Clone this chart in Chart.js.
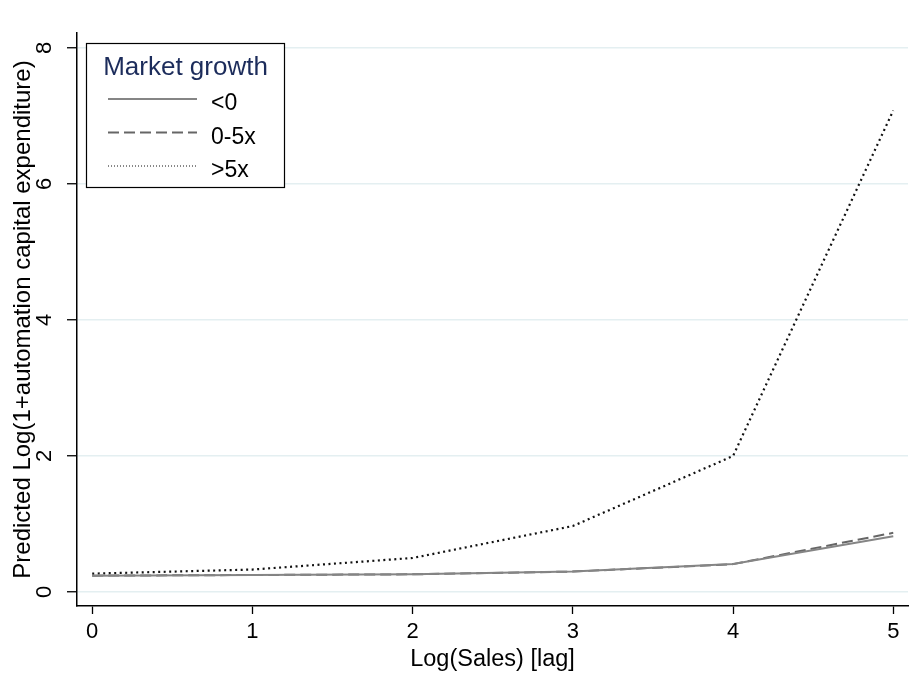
<!DOCTYPE html>
<html>
<head>
<meta charset="utf-8">
<script src="https://cdn.jsdelivr.net/npm/chart.js@4"></script>
<style>
  html, body { margin: 0; padding: 0; background: #fff; }
  #wrap { width: 923px; height: 684px; }
</style>
</head>
<body>
<div id="wrap"><canvas id="c" width="923" height="684"></canvas></div>
<script>
// Predicted log(1 + automation capex) by lagged log sales, per market-growth group
const salesLag   = [0, 1, 2, 3, 4, 5];
const growthNeg  = [0.24, 0.25, 0.26, 0.30, 0.41, 0.82];   // <0
const growthMid  = [0.24, 0.25, 0.26, 0.30, 0.41, 0.87];   // 0-5x
const growthHigh = [0.27, 0.33, 0.50, 0.97, 2.00, 7.08];   // >5x
const seriesLabels = ['<0', '0-5x', '>5x'];
const xTickValues = [0, 1, 2, 3, 4, 5];
const yTickValues = [0, 2, 4, 6, 8];
const legendTitle = 'Market growth';

const FONT = '"Liberation Sans", Arial, Helvetica, sans-serif';

function points(ys) {
  return salesLag.map((x, i) => ({ x: x, y: ys[i] }));
}

// Boxed legend drawn inside the plot region, using each dataset's own line style
const boxLegend = {
  id: 'boxLegend',
  afterDatasetsDraw(chart) {
    const ctx = chart.ctx;
    ctx.save();
    const x0 = 86.5, y0 = 43.5, w = 198, h = 144;
    ctx.fillStyle = '#fff';
    ctx.fillRect(x0, y0, w, h);
    ctx.strokeStyle = '#000';
    ctx.lineWidth = 1.2;
    ctx.strokeRect(x0, y0, w, h);

    ctx.fillStyle = '#1c2c5b';
    ctx.font = '26px ' + FONT;
    ctx.textAlign = 'center';
    ctx.textBaseline = 'alphabetic';
    ctx.fillText(legendTitle, x0 + w / 2, 75);

    chart.data.datasets.forEach((ds, i) => {
      const yLine = 99 + i * 33.5;
      ctx.strokeStyle = ds.borderColor;
      ctx.lineWidth = ds.legendWidth || ds.borderWidth;
      ctx.setLineDash(ds.legendDash || ds.borderDash || []);
      ctx.beginPath();
      ctx.moveTo(108, yLine);
      ctx.lineTo(197, yLine);
      ctx.stroke();
      ctx.setLineDash([]);
      ctx.fillStyle = '#000';
      ctx.font = '23px ' + FONT;
      ctx.textAlign = 'left';
      ctx.fillText(ds.label, 211, yLine + 11);
    });
    ctx.restore();
  }
};

new Chart(document.getElementById('c'), {
  type: 'line',
  data: {
    datasets: [
      {
        label: seriesLabels[0],
        data: points(growthNeg),
        borderColor: '#858585',
        borderWidth: 2,
        borderDash: [],
        pointRadius: 0,
        tension: 0
      },
      {
        label: seriesLabels[1],
        data: points(growthMid),
        borderColor: '#666666',
        borderWidth: 2,
        borderDash: [11, 5],
        pointRadius: 0,
        tension: 0
      },
      {
        label: seriesLabels[2],
        data: points(growthHigh),
        borderColor: '#111111',
        borderWidth: 2.2,
        borderDash: [2, 3.5],
        legendDash: [1, 2],
        legendWidth: 1,
        pointRadius: 0,
        tension: 0
      }
    ]
  },
  options: {
    responsive: false,
    animation: false,
    devicePixelRatio: 1,
    layout: { padding: { top: 33, right: 15, left: 0, bottom: 0 } },
    plugins: {
      legend: { display: false },
      tooltip: { enabled: false }
    },
    scales: {
      x: {
        type: 'linear',
        min: -0.095,
        max: 5.092,
        afterBuildTicks(scale) { scale.ticks = xTickValues.map(v => ({ value: v })); },
        afterFit(scale) { scale.height = 78; },
        grid: { drawOnChartArea: false, drawTicks: true, tickLength: 8, tickColor: '#000', tickWidth: 1.3 },
        border: { display: true, color: '#000', width: 1.5 },
        ticks: { color: '#000', font: { family: FONT, size: 22 }, padding: 5, maxRotation: 0, autoSkip: false },
        title: { display: true, text: 'Log(Sales) [lag]', color: '#000', font: { family: FONT, size: 23.5 }, padding: { top: 0, bottom: 10 } }
      },
      y: {
        type: 'linear',
        min: -0.206,
        max: 8.22,
        afterBuildTicks(scale) { scale.ticks = yTickValues.map(v => ({ value: v })); },
        afterFit(scale) { scale.width = 77; },
        grid: { color: '#e4eff1', lineWidth: 1.5, drawTicks: true, tickLength: 10, tickColor: '#000', tickWidth: 1.3 },
        border: { display: true, color: '#000', width: 1.5 },
        ticks: { color: '#000', font: { family: FONT, size: 22 }, padding: 16, minRotation: 90, maxRotation: 90, crossAlign: 'center', autoSkip: false },
        title: { display: true, text: 'Predicted Log(1+automation capital expenditure)', color: '#000', font: { family: FONT, size: 24 }, padding: { top: 9, bottom: 0 } }
      }
    }
  },
  plugins: [boxLegend]
});
</script>
</body>
</html>
